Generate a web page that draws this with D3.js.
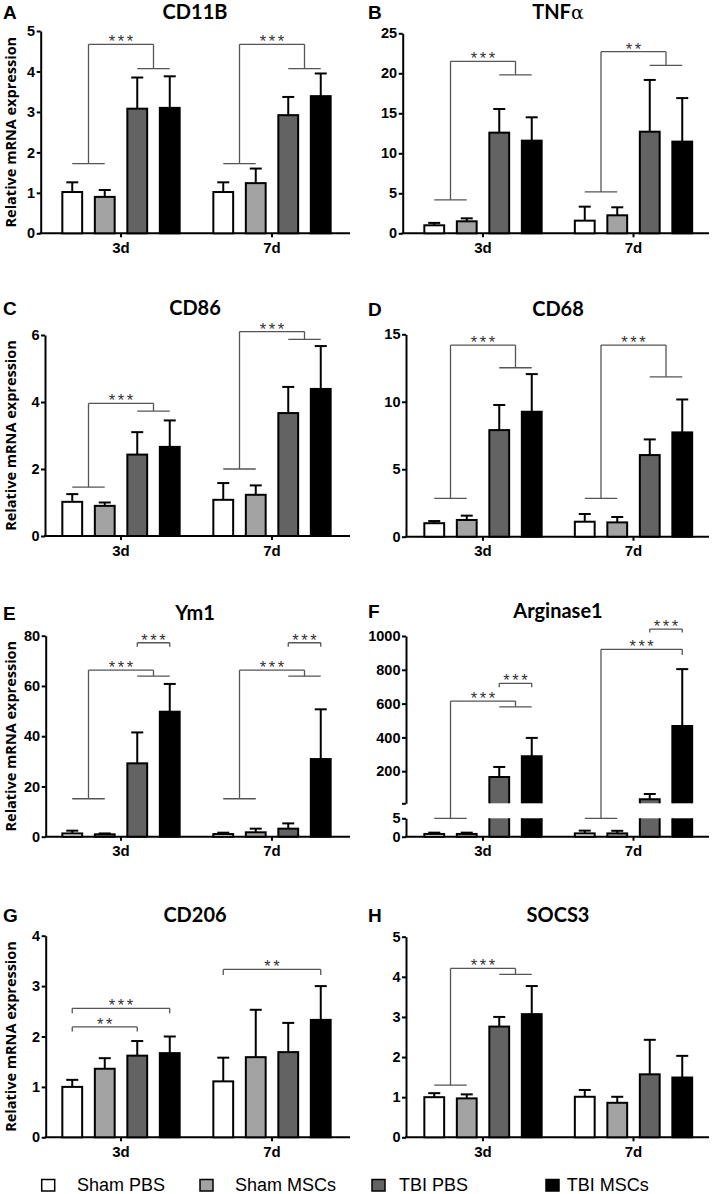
<!DOCTYPE html>
<html><head><meta charset="utf-8">
<script src="https://cdn.jsdelivr.net/npm/d3@7"></script>
<style>body{margin:0;background:#fff}</style>
</head><body><svg id="c" width="713" height="1194"></svg>
<script>
// ---------------- DATA ----------------
const timepoints = ["3d", "7d"];
const groups = ["Sham PBS", "Sham MSCs", "TBI PBS", "TBI MSCs"];
const groupFill = ["#ffffff", "#a3a3a3", "#636363", "#000000"];

// mean and upper end of error bar, per timepoint [3d, 7d], per group
const cd11bMean  = [[1.02, 0.90, 3.08, 3.10], [1.02, 1.24, 2.92, 3.39]];
const cd11bUpper = [[1.26, 1.07, 3.85, 3.88], [1.26, 1.60, 3.37, 3.95]];
const cd11bTicks = [0, 1, 2, 3, 4, 5];
const cd11bSig = [
  {t: 0, a: [0, 1], b: [2, 3], y0: 1.72, y1: 4.67, y2: 4.07, label: "***"},
  {t: 1, a: [0, 1], b: [2, 3], y0: 1.72, y1: 4.67, y2: 4.07, label: "***"}
];

const tnfMean  = [[1.00, 1.50, 12.58, 11.58], [1.58, 2.25, 12.70, 11.46]];
const tnfUpper = [[1.30, 1.87, 15.54, 14.50], [3.33, 3.25, 19.17, 16.90]];
const tnfTicks = [0, 5, 10, 15, 20, 25];
const tnfSig = [
  {t: 0, a: [0, 1], b: [2, 3], y0: 4.17, y1: 21.5, y2: 19.8, label: "***"},
  {t: 1, a: [0, 1], b: [2, 3], y0: 5.17, y1: 22.7, y2: 21.0, label: "**"}
];

const cd86Mean  = [[1.02, 0.90, 2.43, 2.66], [1.08, 1.23, 3.67, 4.39]];
const cd86Upper = [[1.25, 1.00, 3.10, 3.45], [1.58, 1.51, 4.45, 5.67]];
const cd86Ticks = [0, 2, 4, 6];
const cd86Sig = [
  {t: 0, a: [0, 1], b: [2, 3], y0: 1.46, y1: 3.96, y2: 3.73, label: "***"},
  {t: 1, a: [0, 1], b: [2, 3], y0: 2.00, y1: 6.10, y2: 5.87, label: "***"}
];

const cd68Mean  = [[1.00, 1.24, 7.90, 9.26], [1.11, 1.06, 6.05, 7.73]];
const cd68Upper = [[1.16, 1.56, 9.76, 12.05], [1.68, 1.46, 7.21, 10.17]];
const cd68Ticks = [0, 5, 10, 15];
const cd68Sig = [
  {t: 0, a: [0, 1], b: [2, 3], y0: 2.84, y1: 14.2, y2: 12.52, label: "***"},
  {t: 1, a: [0, 1], b: [2, 3], y0: 2.84, y1: 14.2, y2: 11.85, label: "***"}
];

const ym1Mean  = [[1.30, 0.95, 29.2, 49.75], [1.06, 1.75, 3.2, 30.9]];
const ym1Upper = [[2.40, 1.30, 41.5, 60.8], [1.60, 3.20, 5.3, 50.7]];
const ym1Ticks = [0, 20, 40, 60, 80];
const ym1Sig = [
  {t: 0, a: [0, 1], b: [2, 3], y0: 15.1, y1: 66.3, y2: 63.9, label: "***"},
  {t: 0, a: [2], b: [3], y0: 75.6, y1: 77.2, y2: 75.6, label: "***"},
  {t: 1, a: [0, 1], b: [2, 3], y0: 15.1, y1: 66.3, y2: 63.9, label: "***"},
  {t: 1, a: [2], b: [3], y0: 75.6, y1: 77.2, y2: 75.6, label: "***"}
];

const arg1Mean  = [[0.75, 0.75, 166, 289], [0.90, 0.90, 34, 467]];
const arg1Upper = [[1.10, 1.10, 225, 397], [1.65, 1.60, 65, 804]];
const arg1TicksLower = [0, 5];
const arg1TicksUpper = [200, 400, 600, 800, 1000];
const arg1Sig = [
  {t: 0, a: [0, 1], b: [2, 3], y0: 5, y1: 615, y2: 581, label: "***"},
  {t: 0, a: [2], b: [3], y0: 696, y1: 720, y2: 696, label: "***"},
  {t: 1, a: [0, 1], b: [3], y0: 5, y1: 921, y2: 887, label: "***"},
  {t: 1, a: [2], b: [3], y0: 1020, y1: 1041, y2: 1020, label: "***"}
];

const cd206Mean  = [[1.00, 1.36, 1.62, 1.67], [1.11, 1.59, 1.69, 2.33]];
const cd206Upper = [[1.14, 1.57, 1.91, 2.00], [1.58, 2.53, 2.27, 3.00]];
const cd206Ticks = [0, 1, 2, 3, 4];
const cd206Sig = [
  {t: 0, a: [0], b: [2], y0: 2.10, y1: 2.19, y2: 2.10, label: "**"},
  {t: 0, a: [0], b: [3], y0: 2.46, y1: 2.56, y2: 2.46, label: "***"},
  {t: 1, a: [0], b: [3], y0: 3.22, y1: 3.33, y2: 3.22, label: "**"}
];

const socs3Mean  = [[1.00, 0.97, 2.76, 3.07], [1.01, 0.86, 1.57, 1.49]];
const socs3Upper = [[1.10, 1.07, 3.00, 3.77], [1.18, 1.01, 2.43, 2.03]];
const socs3Ticks = [0, 1, 2, 3, 4, 5];
const socs3Sig = [
  {t: 0, a: [0, 1], b: [2, 3], y0: 1.30, y1: 4.21, y2: 4.06, label: "***"}
];

// ---------------- LAYOUT ----------------
const cols = [
  {bandL: 45.5, bandR: 347.5, axisEnd: 350, titleX: 195, letterX: 3},
  {bandL: 407.75, bandR: 708.75, axisEnd: 709, titleX: 558, letterX: 368}
];
const panels = [
  {letter: "A", title: "CD11B", mean: cd11bMean, upper: cd11bUpper, ticks: cd11bTicks, sig: cd11bSig, domain: [0, 5], col: 0, axisX: 40.7, yTop: 31, yBot: 233.3, titleY: 18.5, ylab: true},
  {letter: "B", title: "TNF", alpha: true, mean: tnfMean, upper: tnfUpper, ticks: tnfTicks, sig: tnfSig, domain: [0, 25], col: 1, axisX: 402.7, yTop: 33.3, yBot: 233.3, titleY: 19},
  {letter: "C", title: "CD86", mean: cd86Mean, upper: cd86Upper, ticks: cd86Ticks, sig: cd86Sig, domain: [0, 6], col: 0, axisX: 45, yTop: 335, yBot: 536, titleY: 315, ylab: true},
  {letter: "D", title: "CD68", mean: cd68Mean, upper: cd68Upper, ticks: cd68Ticks, sig: cd68Sig, domain: [0, 15], col: 1, axisX: 406, yTop: 334.3, yBot: 536.7, titleY: 316},
  {letter: "E", title: "Ym1", mean: ym1Mean, upper: ym1Upper, ticks: ym1Ticks, sig: ym1Sig, domain: [0, 80], col: 0, axisX: 45.7, yTop: 635.7, yBot: 836.7, titleY: 620, ylab: true},
  {letter: "F", title: "Arginase1", mean: arg1Mean, upper: arg1Upper, sig: arg1Sig, broken: true, col: 1, axisX: 406, yTop: 636, yBot: 836.7, titleY: 618,
   lowerDomain: [0, 5], lowerRange: [836.7, 818.3], upperDomain: [10, 1000], upperRange: [803.3, 636]},
  {letter: "G", title: "CD206", mean: cd206Mean, upper: cd206Upper, ticks: cd206Ticks, sig: cd206Sig, domain: [0, 4], col: 0, axisX: 45.7, yTop: 935.7, yBot: 1137.3, titleY: 922, ylab: true},
  {letter: "H", title: "SOCS3", mean: socs3Mean, upper: socs3Upper, ticks: socs3Ticks, sig: socs3Sig, domain: [0, 5], col: 1, axisX: 406, yTop: 936.7, yBot: 1137.3, titleY: 922}
];

const svg = d3.select("#c");
const SANS = "'Liberation Sans', Arial, sans-serif";
const TITLE = "Lato, 'Open Sans', sans-serif";
const YLAB = "'Open Sans', 'Liberation Sans', sans-serif";
const BRK = "#555";
const fmt = d3.format("d");

const xi = d3.scaleBand().domain(d3.range(groups.length)).range([-65, 65]).paddingInner(0.39).paddingOuter(0.195);

panels.forEach(p => {
  const c = cols[p.col];
  const g = svg.append("g");
  const x = d3.scaleBand().domain(timepoints).range([c.bandL, c.bandR]);
  const cx = (t, i) => x(timepoints[t]) + x.bandwidth() / 2 + xi(i) + xi.bandwidth() / 2;

  let y, yLow, yUp;
  if (p.broken) {
    yLow = d3.scaleLinear().domain(p.lowerDomain).range(p.lowerRange);
    yUp = d3.scaleLinear().domain(p.upperDomain).range(p.upperRange);
    y = v => v <= p.lowerDomain[1] ? yLow(v) : yUp(Math.max(v, p.upperDomain[0]));
  } else {
    y = d3.scaleLinear().domain(p.domain).range([p.yBot, p.yTop]);
  }

  // y axis
  const styleAxis = sel => {
    sel.selectAll("path.domain").attr("stroke", "#000").attr("stroke-width", 2);
    sel.selectAll(".tick line").attr("stroke", "#000").attr("stroke-width", 2);
    sel.selectAll(".tick text").attr("font-family", SANS).attr("font-weight", "bold").attr("font-size", 14.5).attr("fill", "#000");
  };
  if (p.broken) {
    const aL = g.append("g").attr("transform", `translate(${p.axisX},0)`)
      .call(d3.axisLeft(yLow).tickValues(arg1TicksLower).tickFormat(fmt).tickSize(4).tickSizeOuter(0).tickPadding(1.5));
    styleAxis(aL);
    const aU = g.append("g").attr("transform", `translate(${p.axisX},0)`)
      .call(d3.axisLeft(yUp).tickValues([p.upperDomain[0]].concat(arg1TicksUpper)).tickSize(4).tickSizeOuter(0).tickPadding(1.5)
        .tickFormat(v => v === p.upperDomain[0] ? "" : fmt(v)));
    styleAxis(aU);
  } else {
    const a = g.append("g").attr("transform", `translate(${p.axisX},0)`)
      .call(d3.axisLeft(y).tickValues(p.ticks).tickFormat(fmt).tickSize(4).tickSizeOuter(0).tickPadding(1.5));
    styleAxis(a);
  }

  // x axis
  const ax = g.append("g").attr("transform", `translate(0,${p.yBot})`)
    .call(d3.axisBottom(x).tickSize(4).tickSizeOuter(0).tickPadding(5));
  ax.select("path.domain").remove();
  ax.selectAll(".tick line").attr("stroke", "#000").attr("stroke-width", 2);
  ax.selectAll(".tick text").attr("font-family", SANS).attr("font-weight", "bold").attr("font-size", 15).attr("fill", "#000");
  g.append("line").attr("x1", p.axisX - 1).attr("x2", c.axisEnd).attr("y1", p.yBot).attr("y2", p.yBot)
    .attr("stroke", "#000").attr("stroke-width", 2);

  // significance brackets
  p.sig.forEach(s => {
    const xs = s.a.map(i => cx(s.t, i)), xe = s.b.map(i => cx(s.t, i));
    const xa = d3.mean(xs), xb = d3.mean(xe);
    const lines = [];
    if (xs.length > 1) lines.push([d3.min(xs), y(s.y0), d3.max(xs), y(s.y0)]);
    if (xe.length > 1) lines.push([d3.min(xe), y(s.y2), d3.max(xe), y(s.y2)]);
    lines.push([xa, y(s.y0), xa, y(s.y1)]);
    lines.push([xa, y(s.y1), xb, y(s.y1)]);
    lines.push([xb, y(s.y1), xb, y(s.y2)]);
    g.selectAll(null).data(lines).enter().append("line")
      .attr("x1", d => d[0]).attr("y1", d => d[1]).attr("x2", d => d[2]).attr("y2", d => d[3])
      .attr("stroke", BRK).attr("stroke-width", 1.3);
    g.append("text").attr("x", (xa + xb) / 2 + 1.25).attr("y", y(s.y1) + 3)
      .attr("text-anchor", "middle").attr("font-family", SANS).attr("font-size", 16.5)
      .attr("letter-spacing", 2.5).attr("fill", "#333").text(s.label);
  });

  // bars
  const bars = [];
  p.mean.forEach((row, t) => row.forEach((v, i) => bars.push({t, i, v, u: p.upper[t][i]})));
  const bw = xi.bandwidth();
  bars.forEach(b => {
    const x0 = cx(b.t, b.i) - bw / 2;
    if (p.broken && b.v > p.lowerDomain[1]) {
      const l0 = yLow(0), l1 = yLow(p.lowerDomain[1]);
      const u0 = yUp(p.upperDomain[0]), u1 = yUp(b.v);
      g.append("rect").attr("x", x0).attr("y", l1).attr("width", bw).attr("height", l0 - l1).attr("fill", groupFill[b.i]);
      g.append("path").attr("d", `M${x0},${l1}V${l0}H${x0 + bw}V${l1}`).attr("fill", "none").attr("stroke", "#000").attr("stroke-width", 2);
      g.append("rect").attr("x", x0).attr("y", u1).attr("width", bw).attr("height", u0 - u1).attr("fill", groupFill[b.i]);
      g.append("path").attr("d", `M${x0},${u0}V${u1}H${x0 + bw}V${u0}`).attr("fill", "none").attr("stroke", "#000").attr("stroke-width", 2);
    } else {
      g.append("rect").attr("x", x0).attr("y", y(b.v)).attr("width", bw).attr("height", y(0) - y(b.v))
        .attr("fill", groupFill[b.i]).attr("stroke", "#000").attr("stroke-width", 2);
    }
    const xc = cx(b.t, b.i);
    g.append("line").attr("x1", xc).attr("x2", xc).attr("y1", y(b.v)).attr("y2", y(b.u)).attr("stroke", "#000").attr("stroke-width", 2);
    g.append("line").attr("x1", xc - 6).attr("x2", xc + 6).attr("y1", y(b.u)).attr("y2", y(b.u)).attr("stroke", "#000").attr("stroke-width", 2);
  });

  // title
  const tt = g.append("text").attr("x", c.titleX).attr("y", p.titleY).attr("text-anchor", "middle")
    .attr("font-family", TITLE).attr("font-weight", "bold").attr("font-size", 20).attr("fill", "#000").text(p.title);
  if (p.alpha) tt.append("tspan").attr("font-family", "'DejaVu Serif', serif").attr("font-weight", "normal").attr("font-size", 19).text("α");
  // panel letter
  g.append("text").attr("x", c.letterX).attr("y", p.titleY).attr("font-family", SANS).attr("font-weight", "bold")
    .attr("font-size", 19).attr("fill", "#000").text(p.letter);
  // y label
  if (p.ylab) {
    g.append("text").attr("transform", `translate(16,${(p.yTop + p.yBot) / 2}) rotate(-90)`).attr("text-anchor", "middle")
      .attr("font-family", YLAB).attr("font-weight", "bold").attr("font-size", 14.5).attr("fill", "#000")
      .text("Relative mRNA expression");
  }
});

// legend
const legendX = [[41.7, 77], [200, 235], [372, 399], [546, 566.7]];
const lg = svg.append("g");
groups.forEach((name, i) => {
  lg.append("rect").attr("x", legendX[i][0]).attr("y", 1179.5).attr("width", 13).attr("height", 11.5)
    .attr("fill", groupFill[i]).attr("stroke", "#000").attr("stroke-width", 1.5);
  lg.append("text").attr("x", legendX[i][1]).attr("y", 1191).attr("font-family", SANS).attr("font-size", 18)
    .attr("fill", "#000").text(name);
});
</script></body></html>
